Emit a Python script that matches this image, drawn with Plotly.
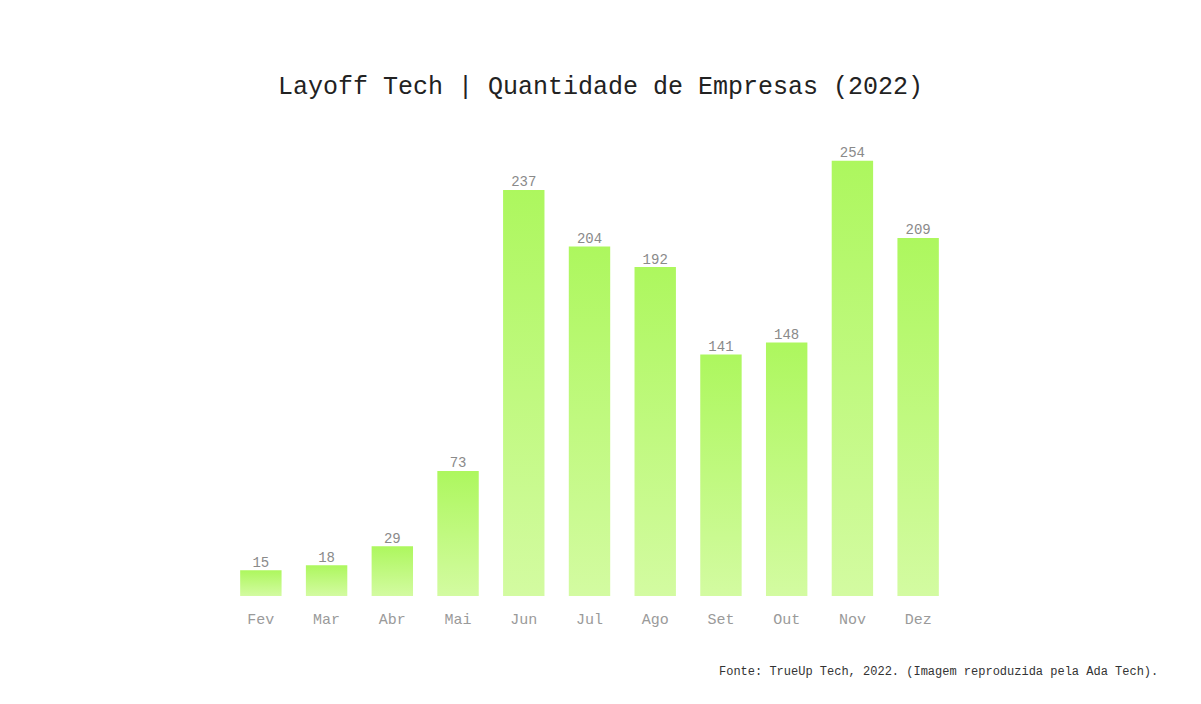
import plotly.graph_objects as go

months = ["Fev", "Mar", "Abr", "Mai", "Jun", "Jul", "Ago", "Set", "Out", "Nov", "Dez"]
companies = [15, 18, 29, 73, 237, 204, 192, 141, 148, 254, 209]

W, H = 1201, 704
ML, MR, MT, MB = 228, 250, 130, 108
FONT = "Liberation Mono, DejaVu Sans Mono, monospace"
half = 0.315

fig = go.Figure()

# gradient-filled bars drawn as filled polygons in data coordinates
for i, v in enumerate(companies):
    fig.add_trace(go.Scatter(
        x=[i - half, i - half, i + half, i + half, i - half],
        y=[0, v, v, 0, 0],
        mode="lines",
        line=dict(width=0, color="rgba(0,0,0,0)"),
        fill="toself",
        fillgradient=dict(type="vertical",
                          colorscale=[[0, "#d3fba1"], [1, "#adf75e"]]),
        hoverinfo="skip",
        showlegend=False,
    ))

# value labels
fig.add_trace(go.Scatter(
    x=list(range(len(months))),
    y=companies,
    mode="text",
    text=[str(v) for v in companies],
    textposition="top center",
    textfont=dict(family=FONT, size=14, color="#8a8a8a"),
    showlegend=False,
    hoverinfo="skip",
))

fig.update_layout(
    width=W, height=H,
    paper_bgcolor="white", plot_bgcolor="white",
    margin=dict(l=ML, r=MR, t=MT, b=MB),
    title=dict(text="Layoff Tech | Quantidade de Empresas (2022)",
               x=0.5, xanchor="center", y=1 - 85 / H, yanchor="middle",
               font=dict(family=FONT, size=25, color="#222222")),
    xaxis=dict(range=[-0.5, len(months) - 0.5],
               tickmode="array", tickvals=list(range(len(months))), ticktext=months,
               showgrid=False, zeroline=False, showline=False,
               ticks="", ticklabelstandoff=12,
               tickfont=dict(family=FONT, size=15, color="#9a9a9a")),
    yaxis=dict(range=[0, 272], visible=False, showgrid=False, zeroline=False),
    annotations=[dict(
        text="Fonte: TrueUp Tech, 2022. (Imagem reproduzida pela Ada Tech).",
        xref="paper", yref="paper",
        x=(1160 - ML) / (W - ML - MR), xanchor="right",
        y=(596 - 672) / (H - MT - MB), yanchor="middle",
        showarrow=False,
        font=dict(family=FONT, size=12, color="#333333"),
    )],
)

fig.write_html("out.html")
